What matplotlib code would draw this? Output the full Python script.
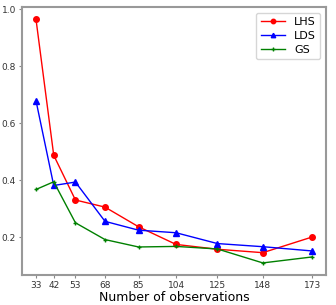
import matplotlib
matplotlib.use('Agg')
import matplotlib.pyplot as plt

N_OBS = [33, 42, 53, 68, 85, 104, 125, 148, 173]
LHS = [0.965, 0.487, 0.330, 0.305, 0.236, 0.174, 0.157, 0.145, 0.200]
LDS = [0.679, 0.381, 0.393, 0.255, 0.224, 0.215, 0.177, 0.166, 0.151]
GS = [0.367, 0.394, 0.250, 0.191, 0.165, 0.167, 0.158, 0.109, 0.130]

fig = plt.figure(figsize=(3.36, 3.05), dpi=100)
ax = fig.add_axes([0.066, 0.098, 0.904, 0.879])

ax.plot(N_OBS, LHS, 'r-o', lw=1, ms=4, label='LHS')
ax.plot(N_OBS, LDS, 'b-^', lw=1, ms=4, label='LDS')
ax.plot(N_OBS, GS, 'g-+', lw=1, ms=3.5, label='GS')

ax.set_xticks(N_OBS)
ax.set_yticks([0.2, 0.4, 0.6, 0.8, 1.0])
ax.tick_params(labelsize=6.5, labelcolor='#333333', color='#888888',
               length=2.5, pad=2)
for s in ax.spines.values():
    s.set_color('#999999')
    s.set_linewidth(1.5)
ax.set_xlabel('Number of observations', fontsize=9, labelpad=0.5)
ax.legend(fontsize=8, loc='upper right', markerscale=0.8,
          handlelength=2.2, borderpad=0.4, labelspacing=0.35)

fig.savefig('out.png', dpi=100)
